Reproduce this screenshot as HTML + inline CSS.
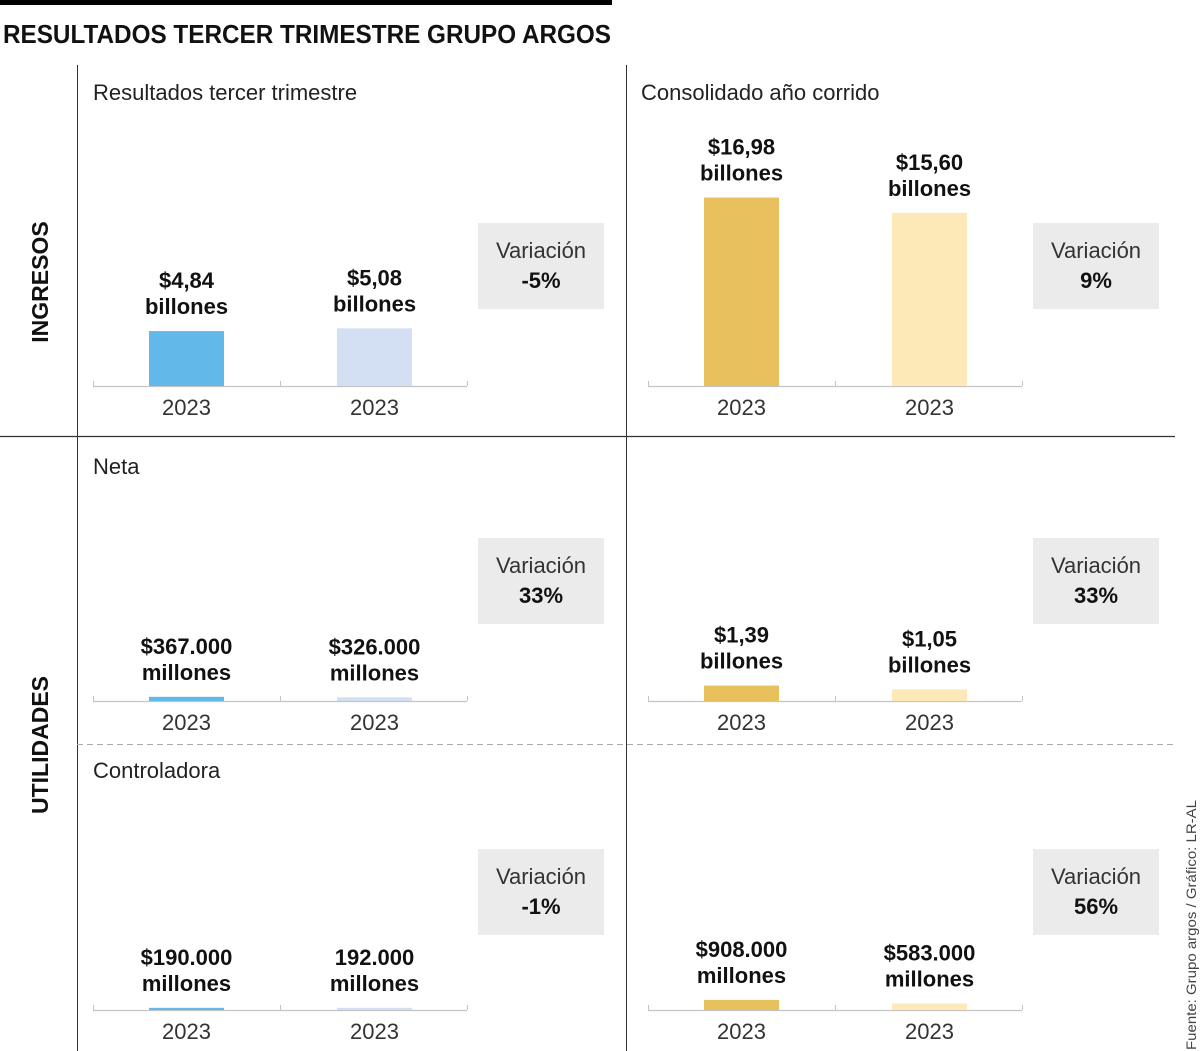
<!DOCTYPE html>
<html><head><meta charset="utf-8">
<style>
html,body{margin:0;padding:0;background:#fff;}
svg{display:block;font-family:"Liberation Sans",sans-serif;}
</style></head>
<body>
<svg id="chart" width="1200" height="1051" viewBox="0 0 1200 1051" xmlns="http://www.w3.org/2000/svg">
  <rect x="0" y="0" width="612" height="5" fill="#000"/>
  <text x="3" y="43" font-size="26" font-weight="bold" textLength="608" lengthAdjust="spacingAndGlyphs" fill="#111">RESULTADOS TERCER TRIMESTRE GRUPO ARGOS</text>
  <line x1="77.5" y1="65" x2="77.5" y2="1051" stroke="#333" stroke-width="1"/>
  <line x1="626.5" y1="65" x2="626.5" y2="1051" stroke="#333" stroke-width="1"/>
  <line x1="0" y1="436.5" x2="1175" y2="436.5" stroke="#333" stroke-width="1.2"/>
  <line x1="77" y1="744.5" x2="1175" y2="744.5" stroke="#aaa" stroke-width="1" stroke-dasharray="6,4"/>
  <text transform="translate(48,282) rotate(-90)" text-anchor="middle" font-size="23" font-weight="bold" fill="#111">INGRESOS</text>
  <text transform="translate(48,745) rotate(-90)" text-anchor="middle" font-size="23" font-weight="bold" fill="#111">UTILIDADES</text>
  <text x="93" y="100" font-size="22" fill="#222">Resultados tercer trimestre</text>
  <text x="641" y="100" font-size="22" fill="#222">Consolidado año corrido</text>
  <text x="93" y="474" font-size="22" fill="#222">Neta</text>
  <text x="93" y="778" font-size="22" fill="#222">Controladora</text>
  <text transform="translate(1196,1050) rotate(-90)" font-size="14" fill="#444" textLength="250" lengthAdjust="spacingAndGlyphs">Fuente: Grupo argos / Gráfico: LR-AL</text>
  <g id="marks"></g>
</svg>
<script>
// data (values in billions of pesos)
const panelNames = ["q3-ingresos","ytd-ingresos","q3-neta","ytd-neta","q3-controladora","ytd-controladora"];
const valuesA = [4.84, 16.98, 0.367, 1.39, 0.190, 0.908];
const valuesB = [5.08, 15.60, 0.326, 1.05, 0.192, 0.583];
const labelsA = [["$4,84","billones"],["$16,98","billones"],["$367.000","millones"],["$1,39","billones"],["$190.000","millones"],["$908.000","millones"]];
const labelsB = [["$5,08","billones"],["$15,60","billones"],["$326.000","millones"],["$1,05","billones"],["192.000","millones"],["$583.000","millones"]];
const categories = ["2023","2023"];
const variations = ["-5%","9%","33%","33%","-1%","56%"];

// layout
const colX = [93, 648];
const rowBase = [386, 701, 1010];
const boxY = [223, 538, 849];
const colScale = [11.35, 11.1]; // px per billion
const colorsA = ["#62b8e8","#e8c15e"];
const colorsB = ["#d3dff2","#fde8b8"];
const y = (base, v, c) => base - v * colScale[c];
const NS = "http://www.w3.org/2000/svg";
const g = document.getElementById("marks");
function mk(tag, attrs, parent){const e=document.createElementNS(NS,tag);for(const k in attrs)e.setAttribute(k,attrs[k]);(parent||g).appendChild(e);return e;}

panelNames.forEach((name, i) => {
  const c = i % 2, r = Math.floor(i / 2);
  const x0 = colX[c], base = rowBase[r];
  const grp = mk("g", {});
  
  
  const ax = mk("line", {x1:x0, y1:base+0.5, x2:x0+374, y2:base+0.5, stroke:"#c4c4c4", "stroke-width":1.2}, grp);
  
  
  [0,187,374].forEach(dx => {
    const t = mk("line", {x1:x0+dx+0.5, y1:base-5, x2:x0+dx+0.5, y2:base, stroke:"#c4c4c4", "stroke-width":1}, grp);
    
    
  });
  [[valuesA[i], labelsA[i], colorsA[c]], [valuesB[i], labelsB[i], colorsB[c]]].forEach((d, j) => {
    const bx = x0 + 56 + j * 188;
    const top = y(base, d[0], c);
    const b = mk("rect", {x:bx, y:top, width:75, height:base-top, fill:d[2]}, grp);
    
    
    const cx = bx + 37.5;
    const l1 = mk("text", {x:cx, y:top-43, "text-anchor":"middle", "font-size":22, "font-weight":"bold", fill:"#111"}, grp);
    l1.textContent = d[1][0];
    
    
    const l2 = mk("text", {x:cx, y:top-17, "text-anchor":"middle", "font-size":22, "font-weight":"bold", fill:"#111"}, grp);
    l2.textContent = d[1][1];
    
    
    const yr = mk("text", {x:cx, y:base+29, "text-anchor":"middle", "font-size":22, fill:"#333"}, grp);
    yr.textContent = categories[j];
    
    
  });
  const bxX = x0 + 385;
  const box = mk("rect", {x:bxX, y:boxY[r], width:126, height:86, fill:"#ebebeb"}, grp);
  
  
  const vt = mk("text", {x:bxX+63, y:boxY[r]+35, "text-anchor":"middle", "font-size":22, fill:"#333"}, grp);
  vt.textContent = "Variación";
  
  
  const vv = mk("text", {x:bxX+63, y:boxY[r]+65, "text-anchor":"middle", "font-size":22, "font-weight":"bold", fill:"#111"}, grp);
  vv.textContent = variations[i];
  
  
});
</script>
</body></html>
